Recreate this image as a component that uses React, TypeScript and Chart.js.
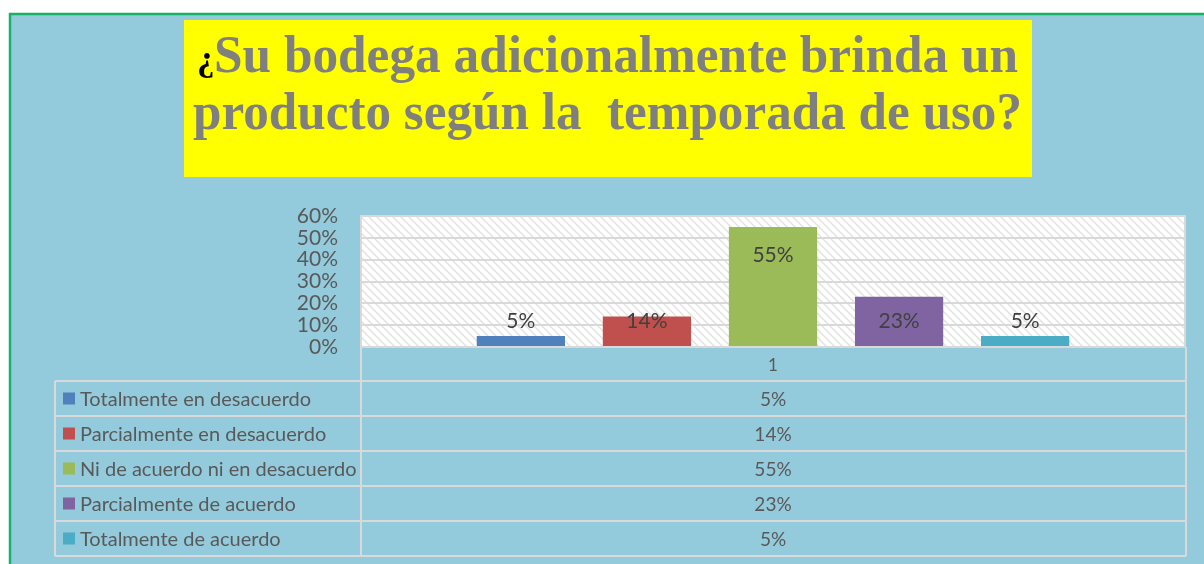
import React, { useEffect, useRef } from "react";
import { Chart, registerables } from "chart.js";

Chart.register(...registerables);

// ---- data ----
const titleMark = "¿";
const titleLine1 = "Su bodega adicionalmente brinda un";
const titleLine2 = "producto según la  temporada de uso?";
const categories = ["1"];
const seriesNames = [
  "Totalmente en desacuerdo",
  "Parcialmente en desacuerdo",
  "Ni de acuerdo ni en desacuerdo",
  "Parcialmente de acuerdo",
  "Totalmente de acuerdo",
];
const seriesValues = [0.05, 0.14, 0.55, 0.23, 0.05];
const seriesColors = ["#4F81BD", "#C0504D", "#9BBB59", "#8064A2", "#4BACC6"];
const yMin = 0;
const yMax = 0.6;
const yStep = 0.1;

const pct = (v: number) => Math.round(v * 100) + "%";

const SANS = "Lato, 'Liberation Sans', sans-serif";
const SERIF = "'Liberation Serif', 'DejaVu Serif', serif";

function makeHatch(ctx: CanvasRenderingContext2D) {
  const c = document.createElement("canvas");
  c.width = 8;
  c.height = 8;
  const g = c.getContext("2d")!;
  g.fillStyle = "#FFFFFF";
  g.fillRect(0, 0, 8, 8);
  g.strokeStyle = "#E2E2E2";
  g.lineWidth = 1.5;
  g.beginPath();
  g.moveTo(-1, -1);
  g.lineTo(9, 9);
  g.moveTo(-1, 7);
  g.lineTo(1, 9);
  g.moveTo(7, -1);
  g.lineTo(9, 1);
  g.stroke();
  return ctx.createPattern(c, "repeat");
}

function fitText(ctx: CanvasRenderingContext2D, text: string, x: number, y: number, w: number) {
  const m = ctx.measureText(text).width;
  const s = w / m;
  ctx.save();
  ctx.translate(x, y);
  ctx.scale(s, 1);
  ctx.fillText(text, 0, 0);
  ctx.restore();
}

const decorPlugin = {
  id: "decor",
  beforeDraw(chart: any) {
    const ctx: CanvasRenderingContext2D = chart.ctx;
    const { width, height } = chart;
    const { left, right, top, bottom } = chart.chartArea;
    ctx.save();
    ctx.fillStyle = "#FFFFFF";
    ctx.fillRect(0, 0, width, height);
    ctx.fillStyle = "#93CBDC";
    ctx.fillRect(10, 14, width - 10, height - 14);
    ctx.strokeStyle = "#17B26A";
    ctx.lineWidth = 2.5;
    ctx.strokeRect(10, 14, width + 10, height + 10);

    // title box
    ctx.fillStyle = "#FFFF00";
    ctx.fillRect(184, 20, 848, 157);
    ctx.fillStyle = "#000000";
    ctx.font = `bold 35px ${SERIF}`;
    ctx.textBaseline = "alphabetic";
    ctx.textAlign = "left";
    ctx.fillText(titleMark, 197, 70);
    ctx.fillStyle = "#7F7F7F";
    ctx.font = `bold 52px ${SERIF}`;
    fitText(ctx, titleLine1, 214, 72, 804);
    fitText(ctx, titleLine2, 193, 129, 829);

    // plot area hatch
    const pat = makeHatch(ctx);
    if (pat) {
      ctx.fillStyle = pat;
      ctx.fillRect(left, top, right - left, bottom - top);
    }
    ctx.restore();
  },
  afterDraw(chart: any) {
    const ctx: CanvasRenderingContext2D = chart.ctx;
    const { left, right, top, bottom } = chart.chartArea;
    const xScale = chart.scales.x;
    ctx.save();

    // data labels
    ctx.font = `21px ${SANS}`;
    ctx.fillStyle = "#404040";
    ctx.textAlign = "center";
    ctx.textBaseline = "middle";
    chart.data.datasets.forEach((ds: any, i: number) => {
      const el = chart.getDatasetMeta(i).data[0];
      if (!el) return;
      const y = Math.min(el.y + 28, el.base - 25);
      ctx.fillText(pct(ds.data[0]), el.x, y);
    });

    // frame + data table
    const gray = "#D9D9D9";
    ctx.strokeStyle = gray;
    ctx.lineWidth = 2;
    ctx.strokeRect(left, top, right - left, bottom - top);

    const rowH = 35;
    const headerBottom = bottom + 34;
    const tableLeft = 55;
    const n = seriesNames.length;
    const tableBottom = headerBottom + n * rowH;
    ctx.beginPath();
    ctx.moveTo(left, bottom);
    ctx.lineTo(left, tableBottom);
    ctx.moveTo(right + 1, bottom);
    ctx.lineTo(right + 1, tableBottom);
    ctx.moveTo(tableLeft, headerBottom);
    ctx.lineTo(tableLeft, tableBottom);
    for (let i = 0; i <= n; i++) {
      const y = headerBottom + i * rowH;
      ctx.moveTo(tableLeft, y);
      ctx.lineTo(right + 1, y);
    }
    ctx.stroke();

    const cx = xScale.getPixelForValue(0);
    for (let i = 0; i < n; i++) {
      const cy = headerBottom + i * rowH + rowH / 2;
      ctx.fillStyle = seriesColors[i];
      ctx.fillRect(63, cy - 6, 12, 12);
      ctx.fillStyle = "#595959";
      ctx.textAlign = "left";
      ctx.textBaseline = "middle";
      ctx.font = `20px ${SANS}`;
      ctx.fillText(seriesNames[i], 80, cy + 1);
      ctx.textAlign = "center";
      ctx.font = `19px ${SANS}`;
      ctx.fillText(pct(seriesValues[i]), cx, cy + 1);
    }
    ctx.restore();
  },
};

export default function App() {
  const ref = useRef<HTMLCanvasElement | null>(null);

  useEffect(() => {
    document.body.style.margin = "0";
    const canvas = ref.current;
    if (!canvas) return;
    const chart = new Chart(canvas, {
      type: "bar",
      data: {
        labels: categories,
        datasets: seriesNames.map((name, i) => ({
          label: name,
          data: [seriesValues[i]],
          backgroundColor: seriesColors[i],
          borderWidth: 0,
          categoryPercentage: 0.765,
          barPercentage: 0.7,
        })),
      },
      options: {
        responsive: false,
        devicePixelRatio: 1,
        animation: false,
        events: [],
        layout: { padding: { left: 0, right: 19, top: 216, bottom: 0 } },
        plugins: {
          legend: { display: false },
          title: { display: false },
          tooltip: { enabled: false },
        },
        scales: {
          x: {
            grid: { display: false, drawTicks: false },
            border: { display: false },
            ticks: {
              color: "#595959",
              font: { family: SANS, size: 17 },
              padding: 8,
            },
            afterFit: (s: any) => {
              s.height = 217;
            },
          },
          y: {
            min: yMin,
            max: yMax,
            grid: { color: "#D9D9D9", lineWidth: 2, drawTicks: false },
            border: { display: false },
            ticks: {
              stepSize: yStep,
              autoSkip: false,
              color: "#595959",
              font: { family: SANS, size: 21, lineHeight: 1 },
              padding: 23,
              callback: (v: any) => pct(Number(v)),
            },
            afterFit: (s: any) => {
              s.width = 361;
            },
          },
        },
      },
      plugins: [decorPlugin],
    });
    return () => chart.destroy();
  }, []);

  return (
    <canvas
      ref={ref}
      width={1204}
      height={564}
      style={{ display: "block", width: 1204, height: 564 }}
    />
  );
}
